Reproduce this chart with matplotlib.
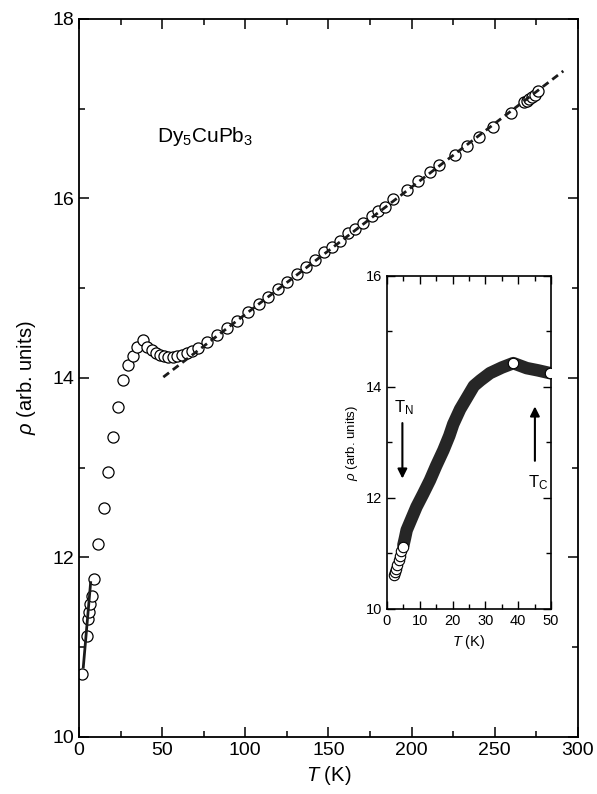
import matplotlib
matplotlib.use("Agg")
from matplotlib import pyplot as plt
from matplotlib.ticker import MultipleLocator

plt.rcParams['font.family'] = ['Liberation Sans', 'DejaVu Sans']
plt.rcParams['mathtext.fontset'] = 'custom'
plt.rcParams['mathtext.rm'] = 'Liberation Sans'
plt.rcParams['mathtext.it'] = 'Liberation Sans:italic'

# main panel: resistivity vs temperature
main_T = [2.0, 4.6, 5.6, 6.0, 6.6, 7.8, 9.2, 11.6, 14.8, 17.4, 20.6, 23.6,
          26.7, 29.7, 32.3, 34.9, 38.3, 41.1, 43.7, 46.1, 48.7, 51.3, 53.7,
          56.3, 58.9, 61.7, 64.8, 67.8, 71.7, 76.8, 82.8, 88.8, 94.8, 101.8,
          108.4, 113.8, 119.9, 125.3, 130.9, 136.5, 141.9, 147.3, 151.9,
          157.0, 162.0, 166.0, 171.0, 176.0, 180.0, 184.0, 189.0, 197.0,
          204.0, 211.0, 216.7, 226.1, 233.5, 240.7, 248.8, 259.6, 267.6,
          269.2, 270.8, 272.6, 274.2, 276.2]
main_rho = [10.70, 11.12, 11.31, 11.39, 11.48, 11.57, 11.76, 12.15, 12.55,
            12.95, 13.34, 13.68, 13.98, 14.14, 14.25, 14.35, 14.42, 14.35,
            14.31, 14.28, 14.26, 14.24, 14.23, 14.23, 14.24, 14.26, 14.28,
            14.30, 14.33, 14.40, 14.48, 14.56, 14.64, 14.73, 14.82, 14.90,
            14.99, 15.07, 15.16, 15.24, 15.32, 15.40, 15.46, 15.53, 15.61,
            15.66, 15.73, 15.80, 15.86, 15.91, 15.99, 16.10, 16.19, 16.29,
            16.37, 16.48, 16.58, 16.68, 16.80, 16.95, 17.07, 17.09, 17.11,
            17.13, 17.15, 17.20]

# linear high-T fit (dashed) and low-T fit (solid)
lin_T = [50.7, 291.2]
lin_rho = [14.01, 17.42]
low_T = [2.6, 7.0]
low_rho = [10.78, 11.72]

# inset: low temperature detail
inset_T = [5.0, 5.5, 6.0, 7.5, 9.0, 11.0, 13.1, 15.0, 17.2, 19.0, 20.2,
           22.3, 24.3, 26.5, 28.5, 31.4, 35.0, 38.5, 42.6, 46.0, 49.7]
inset_rho = [11.15, 11.28, 11.42, 11.63, 11.84, 12.07, 12.32, 12.58, 12.86,
             13.12, 13.33, 13.60, 13.80, 14.02, 14.12, 14.25, 14.35, 14.43,
             14.34, 14.30, 14.25]
inset_lowT = [2.0, 2.4, 2.8, 3.2, 3.6, 4.0, 4.4, 4.8, 38.5, 49.7]
inset_lowrho = [10.62, 10.66, 10.72, 10.80, 10.88, 10.96, 11.04, 11.12, 14.43, 14.25]

fig = plt.figure(figsize=(5.97, 7.94), dpi=100)
ax = fig.add_axes([0.1323, 0.0718, 0.8358, 0.9043])

ax.plot(main_T, main_rho, 'o', mfc='white', mec='black', ms=8, mew=0.9, zorder=2)
ax.plot(lin_T, lin_rho, color='#1a1a1a', lw=2, dashes=(2.6, 1.7), zorder=3)
ax.plot(low_T, low_rho, color='#1a1a1a', lw=2, zorder=3)

ax.set_xlim(0, 300)
ax.set_ylim(10, 18)
ax.xaxis.set_major_locator(MultipleLocator(50))
ax.xaxis.set_minor_locator(MultipleLocator(25))
ax.yaxis.set_major_locator(MultipleLocator(2))
ax.yaxis.set_minor_locator(MultipleLocator(1))
ax.tick_params(which='both', direction='in', top=True, right=True, width=1.1)
ax.tick_params(which='major', length=7, labelsize=14)
ax.tick_params(which='minor', length=4.5)
for s in ax.spines.values():
    s.set_linewidth(1.3)
ax.set_xlabel('$T$ (K)', fontsize=14.5, labelpad=4)
ax.set_ylabel(r'$\rho$ (arb. units)', fontsize=14.5, labelpad=10)
ax.text(46.9, 16.69, 'Dy$_5$CuPb$_3$', fontsize=15, va='center', ha='left')

# inset
ins = fig.add_axes([0.6482, 0.2330, 0.2747, 0.4194])
ins.plot(inset_T, inset_rho, color='#262626', lw=9, solid_capstyle='round',
         solid_joinstyle='round', zorder=2)
ins.plot(inset_lowT, inset_lowrho, 'o', mfc='white', mec='black', ms=7.5,
         mew=0.8, zorder=3)
ins.set_xlim(0, 50)
ins.set_ylim(10, 16)
ins.xaxis.set_major_locator(MultipleLocator(10))
ins.xaxis.set_minor_locator(MultipleLocator(5))
ins.yaxis.set_major_locator(MultipleLocator(2))
ins.yaxis.set_minor_locator(MultipleLocator(1))
ins.tick_params(which='both', direction='in', top=True, right=True, width=1)
ins.tick_params(which='major', length=6, labelsize=10.5)
ins.tick_params(which='minor', length=3.5)
for s in ins.spines.values():
    s.set_linewidth(1.2)
ins.set_xlabel('$T$ (K)', fontsize=10.5, labelpad=4)
ins.set_ylabel(r'$\rho$ (arb. units)', fontsize=9.5, labelpad=4)

ins.annotate('', xy=(4.7, 12.3), xytext=(4.7, 13.4),
             arrowprops=dict(arrowstyle='-|>', color='black', lw=1.5,
                             mutation_scale=14))
ins.text(2.2, 13.62, 'T$_\\mathrm{N}$', fontsize=12, va='center', ha='left')
ins.annotate('', xy=(45.1, 13.7), xytext=(45.1, 12.62),
             arrowprops=dict(arrowstyle='-|>', color='black', lw=1.5,
                             mutation_scale=14))
ins.text(46.0, 12.27, 'T$_\\mathrm{C}$', fontsize=12, va='center', ha='center')

fig.savefig('out.png', dpi=100)
